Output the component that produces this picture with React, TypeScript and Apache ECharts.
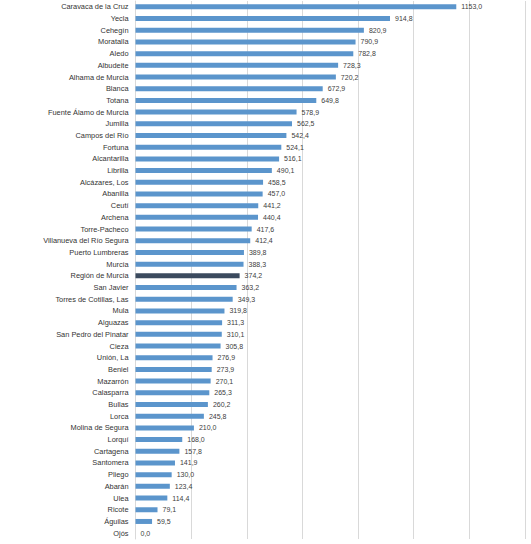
import React, { useEffect, useRef } from 'react';
import * as echarts from 'echarts';

// municipios, de mayor a menor
const municipios = [
  'Caravaca de la Cruz', 'Yecla', 'Cehegín', 'Moratalla', 'Aledo', 'Albudeite',
  'Alhama de Murcia', 'Blanca', 'Totana', 'Fuente Álamo de Murcia', 'Jumilla',
  'Campos del Río', 'Fortuna', 'Alcantarilla', 'Librilla', 'Alcázares, Los',
  'Abanilla', 'Ceutí', 'Archena', 'Torre-Pacheco', 'Villanueva del Río Segura',
  'Puerto Lumbreras', 'Murcia', 'Región de Murcia', 'San Javier',
  'Torres de Cotillas, Las', 'Mula', 'Alguazas', 'San Pedro del Pinatar', 'Cieza',
  'Unión, La', 'Beniel', 'Mazarrón', 'Calasparra', 'Bullas', 'Lorca',
  'Molina de Segura', 'Lorquí', 'Cartagena', 'Santomera', 'Pliego', 'Abarán',
  'Ulea', 'Ricote', 'Águilas', 'Ojós',
];

const valores = [
  1153.0, 914.8, 820.9, 790.9, 782.8, 728.3,
  720.2, 672.9, 649.8, 578.9, 562.5,
  542.4, 524.1, 516.1, 490.1, 458.5,
  457.0, 441.2, 440.4, 417.6, 412.4,
  389.8, 388.3, 374.2, 363.2,
  349.3, 319.8, 311.3, 310.1, 305.8,
  276.9, 273.9, 270.1, 265.3, 260.2, 245.8,
  210.0, 168.0, 157.8, 141.9, 130.0, 123.4,
  114.4, 79.1, 59.5, 0.0,
];

const destacado = 'Región de Murcia';

const App = () => {
  const chartRef = useRef<HTMLDivElement>(null);

  useEffect(() => {
    const chart = echarts.init(chartRef.current!, null, { renderer: 'svg' });

    chart.setOption({
      animation: false,
      textStyle: { fontFamily: 'Liberation Sans' },
      grid: { left: 135.5, right: 6, top: 1, bottom: 5, containLabel: false },
      xAxis: {
        type: 'value',
        min: 0,
        max: 1400,
        interval: 200,
        axisLabel: { show: false },
        axisLine: { show: false },
        axisTick: { show: false },
        splitLine: { lineStyle: { color: '#d9d9d9', width: 1 } },
      },
      yAxis: {
        type: 'category',
        inverse: true,
        data: municipios,
        axisLine: { lineStyle: { color: '#d9d9d9' } },
        axisTick: { show: false },
        axisLabel: { color: '#333333', fontSize: 7.4, margin: 7, interval: 0 },
      },
      series: [
        {
          type: 'bar',
          barWidth: 5,
          data: valores.map((v, i) => ({
            value: v,
            itemStyle: { color: municipios[i] === destacado ? '#3b4a5e' : '#5b95cc' },
          })),
          label: {
            show: true,
            position: 'right',
            distance: 5,
            color: '#404040',
            fontSize: 7,
            formatter: (p: any) => p.value.toFixed(1).replace('.', ','),
          },
        },
      ],
    });

    return () => {
      chart.dispose();
    };
  }, []);

  return (
    <div
      style={{ position: 'fixed', left: 0, top: 0, width: '531px', height: '544px', background: '#fff' }}
      ref={chartRef}
    ></div>
  );
};
export default App;
